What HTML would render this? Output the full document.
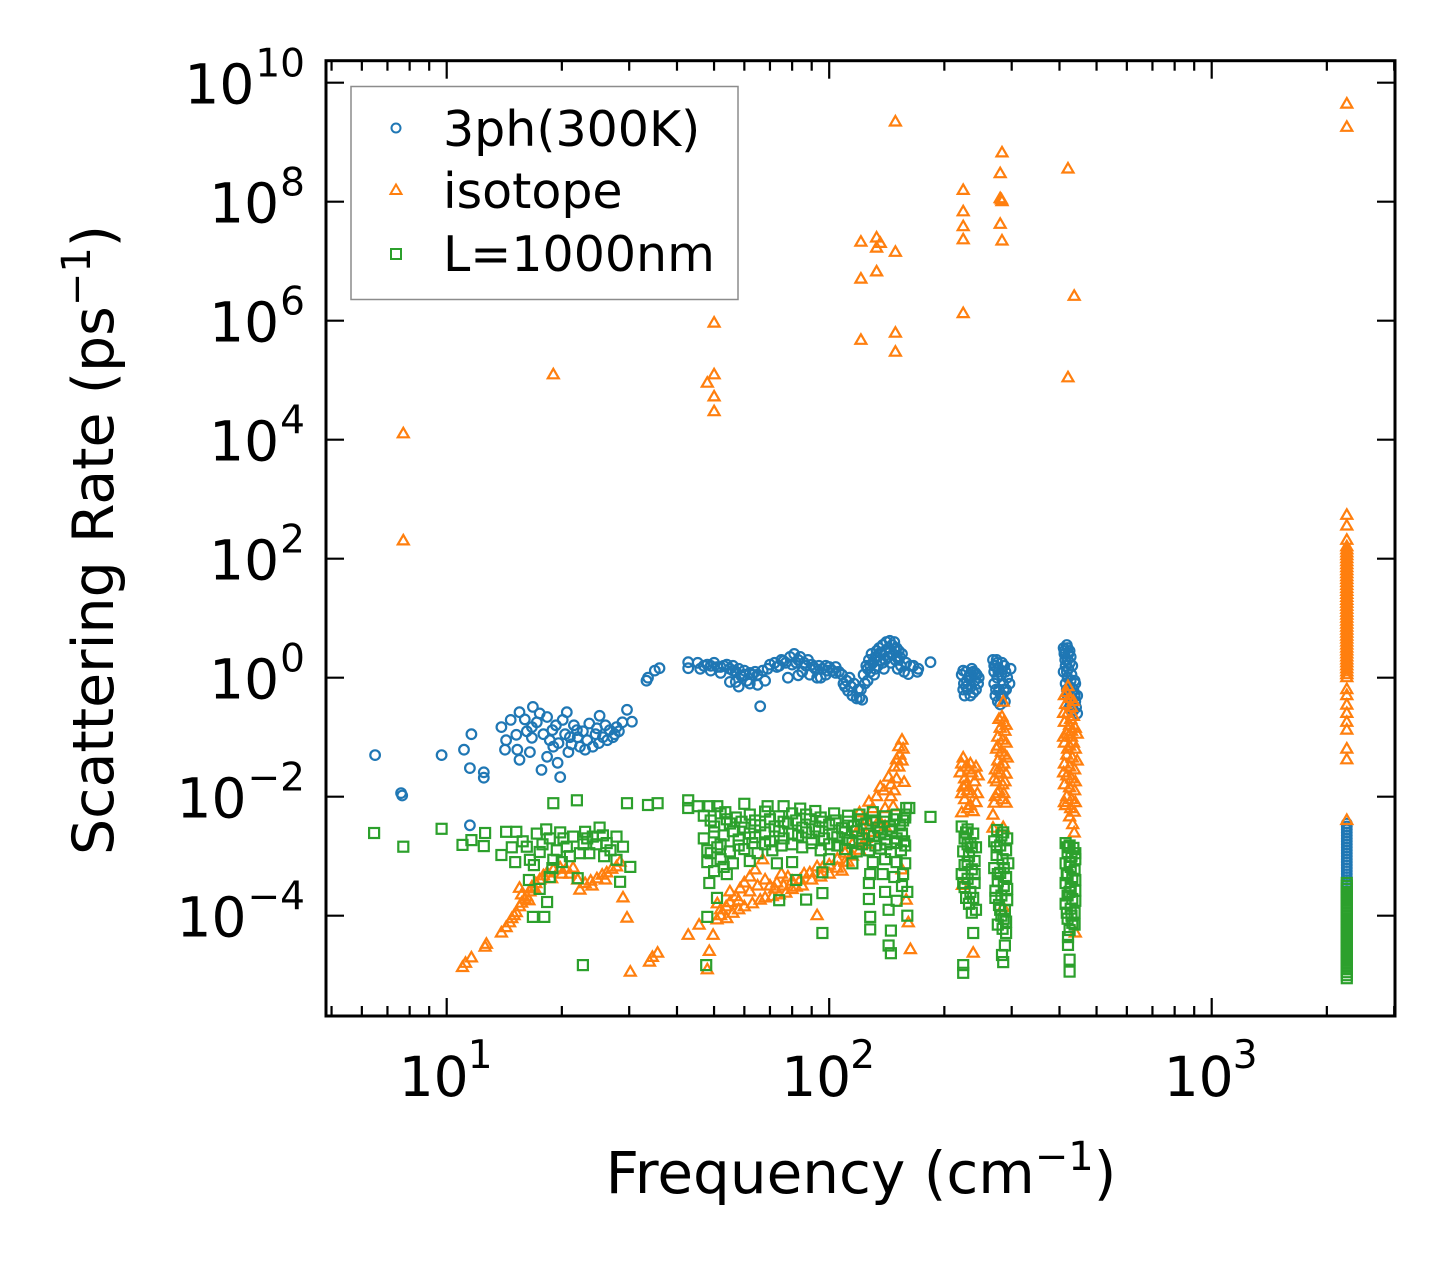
<!DOCTYPE html>
<html><head><meta charset="utf-8"><style>
html,body{margin:0;padding:0;background:#fff;}
svg{display:block;font-family:"DejaVu Sans","Liberation Sans",sans-serif;}
</style></head><body>
<svg id="chart" width="1455" height="1267" viewBox="0 0 1455 1267" xmlns="http://www.w3.org/2000/svg">
<rect width="1455" height="1267" fill="#fff"/>
<g id="marks"></g>
<g id="axes"></g>
<text x="861" y="1193" font-size="58" text-anchor="middle">Frequency (cm<tspan font-size="40" dy="-23">−1</tspan><tspan dy="23">)</tspan></text>
<text transform="translate(113,540) rotate(-90)" font-size="57" text-anchor="middle">Scattering Rate (ps<tspan font-size="40" dy="-23">−1</tspan><tspan dy="23">)</tspan></text>
<g>
<rect x="351" y="86.5" width="387" height="213" fill="#fff" stroke="#8c8c8c" stroke-width="1.5"/>
<circle cx="396" cy="128" r="4.5" fill="none" stroke="#1f77b4" stroke-width="2"/>
<text x="443" y="146" font-size="49">3ph(300K)</text>
<polygon points="396,184.5 401.5,194 390.5,194" fill="none" stroke="#ff7f0e" stroke-width="2"/>
<text x="443" y="208" font-size="49">isotope</text>
<rect x="391" y="249" width="10" height="10" fill="none" stroke="#2ca02c" stroke-width="2"/>
<text x="443" y="271" font-size="49">L=1000nm</text>
</g>
</svg>
<script>
// Data: [frequency (cm^-1), log10 scattering rate (ps^-1)]
const xTickLabels = ["1","2","3"];
const yTickLabels = ["10","8","6","4","2","0","−2","−4"];
const yTickExps = [10,8,6,4,2,0,-2,-4];
const xTickExps = [1,2,3];

const pts3ph = [
[6.5,-1.30],[7.6,-1.94],[7.65,-1.98],[9.7,-1.30],[11.1,-1.21],[11.6,-0.95],[11.5,-1.52],[12.5,-1.59],[12.5,-1.68],[11.5,-2.48],
[13.9,-0.83],[14.3,-1.05],[14.2,-1.21],[14.7,-0.71],[15.5,-0.58],[15.2,-0.96],[15.3,-1.21],[15.5,-1.38],[16.8,-0.49],[16.7,-0.83],[16.7,-1.01],[16.5,-1.25],[17.5,-0.6],[17.7,-1.55],[18.3,-0.66],[18.3,-1.33],[18.9,-0.88],[19.0,-1.16],[19.5,-1.43],[19.8,-1.67],[20.1,-0.71],[20.6,-0.58],[21.0,-1.0],[21.9,-0.88],[22.3,-1.16],[23.0,-1.21],[23.6,-0.77],[24.1,-1.16],[25.1,-0.64],[25.6,-1.0],[26.7,-0.88],[27.2,-1.0],[27.8,-0.83],[29.6,-0.54],[30.5,-0.74],
[17.2,-0.75],[17.9,-0.95],[18.6,-1.05],[19.3,-0.8],[20.4,-0.95],[21.2,-1.12],[21.5,-0.8],[22.0,-1.0],[22.7,-0.9],[23.3,-1.05],[24.5,-0.95],[25.0,-1.1],[26.0,-0.8],[26.3,-1.05],[27.5,-0.95],[28.2,-0.9],[16.0,-0.7],[16.2,-0.9],[19.6,-1.1],[20.8,-1.25],[28.8,-0.75],[24.7,-0.85],
[33.3,-0.05],[33.6,0.0],[35,0.12],[36,0.16],
[42.8,0.26],[42.8,0.16],[45.3,0.25],[47,0.2],[48,0.22],[49,0.12],[50,0.25],[51,0.18],[52,0.08],[53,0.2],[54,0.22],[55,0.15],[55,-0.07],[56,0.2],[57,0.1],[58,0.15],[59,0.02],[60,0.12],[61,-0.05],[62,0.08],[63,0.05],[64,0.1],[65,0.05],[66,-0.48],[67,0.12],[68,-0.05],[69,0.15],[70,0.22],[72,0.25],[74,0.2],[75,0.3],[77,0.25],[79,0.35],[80,0.22],[81,0.4],[83,0.3],[84,0.35],[86,0.25],[87,0.2],[88,0.3],[90,0.22],[92,0.15],[94,0.2],[96,0.15],[98,0.2],[100,0.18],[102,0.12],[104,0.18],[106,0.1],[108,0.05],[109,-0.1],[110,-0.15],[112,-0.22],[113,0.0],[115,-0.3],[116,-0.1],[118,-0.35],[120,-0.34],[121,-0.2],[122,-0.37],[123,0.05],[124,-0.1],[125,0.2],[126,-0.05],[127,0.3],[128,0.1],[129,0.4],[130,0.25],[131,0.05],[132,0.35],[133,0.45],[134,0.2],[135,0.5],[136,0.3],[137,0.4],[138,0.55],[139,0.15],[140,0.45],[141,0.6],[142,0.35],[143,0.5],[144,0.62],[145,0.25],[146,0.55],[147,0.4],[148,0.6],[149,0.3],[150,0.5],[151,0.15],[152,0.45],[153,0.35],[154,0.2],[155,0.4],[157,0.1],[159,0.25],[161,0.06],[163,0.2],[166,0.2],[170,0.1],[171,0.15],[184,0.26],
[85,0.1],[89,0.05],[95,0],[98,0.05],[104,0.08],[78,0.0],[83,0.04],[93,0.0],[57,-0.07],[62,-0.1],[58,-0.15],[65,-0.12],
[46,0.15],[49,0.2],[52,0.18],[56,0.12],[60,0.05],[73,0.18],[76,0.28],[82,0.25],[91,0.18],[99,0.12],[111,-0.05],[114,-0.15],[119,-0.2],[126,0.15],[132,0.15],[136,0.42],[140,0.3],[144,0.42],[148,0.48],[150,0.35],[152,0.3],[134,0.35],[138,0.25],[128,0.2],
[222,0.05],[225,-0.1],[228,0.1],[230,-0.2],[232,0.0],[235,-0.15],[238,0.1],[240,-0.05],[243,0.05],[226,-0.3],[234,-0.3],[245,-0.1],[224,0.12],[236,0.15],[229,-0.05],[242,-0.2],
[224,-0.2],[233,0.05],[238,-0.25],[246,0.0],[228,-0.15],[241,0.08],
[268,0.3],[270,0.1],[270,-0.1],[272,0.2],[272,-0.3],[275,0.0],[275,0.25],[278,-0.2],[278,0.15],[280,-0.45],[282,0.05],[284,-0.3],[285,-0.1],[287,0.2],[288,-0.4],[290,-0.2],[292,0.0],[298,0.15],[296,-0.1],
[270,0.2],[273,-0.2],[277,0.1],[281,-0.3],[283,0.25],[286,-0.2],[276,-0.4],[289,0.1],[274,0.3],
[410,0.5],[418,0.55],[425,0.45],[412,0.4],[420,0.3],[428,0.35],[415,0.2],[422,0.15],[432,0.2],[410,0.1],[420,0.0],[430,0.05],[438,-0.05],[415,-0.1],[425,-0.15],[435,-0.2],[440,-0.1],[420,-0.3],[430,-0.35],[440,-0.4],[445,-0.3],[425,-0.5],[435,-0.55],[445,-0.6],
[412,0.45],[422,0.4],[414,0.3],[426,0.25],[418,0.1],[428,-0.05],[432,-0.25],[438,-0.3],[428,-0.45],[442,-0.5],[420,0.5],[418,-0.2],
[2255,-2.45],[2255,-2.5],[2255,-2.55],[2255,-2.6],[2255,-2.65],[2255,-2.7],[2255,-2.75],[2255,-2.8],[2255,-2.85],[2255,-2.9],[2255,-2.95],[2255,-3.0],[2255,-3.05],[2255,-3.1],[2255,-3.15],[2255,-3.2],[2255,-3.25],[2255,-3.3],[2255,-3.35],[2255,-3.4],[2255,-3.45]
];

const ptsIsotope = [
[7.7,4.1],[7.7,2.3],[19.0,5.09],[50,5.96],[48,4.95],[50,5.09],[50,4.72],[50,4.47],[121,5.67],[121,6.7],[121,7.32],[133,6.82],[133,7.39],[133,7.22],[136,7.3],[149,9.34],[149,7.15],[149,5.79],[149,5.47],[224,8.19],[224,7.83],[224,7.58],[224,7.36],[224,6.12],[283,8.82],[280,8.47],[280,8.05],[283,8.0],[282,8.03],[280,7.62],[283,7.34],[421,8.55],[437,6.41],[421,5.04],[2255,9.64],[2255,9.25],
[2255,2.73],[2255,2.55],[2255,2.31],[2255,2.2],[2255,2.15],[2255,2.1],[2255,2.05],[2255,2.0],[2255,1.95],[2255,1.9],[2255,1.85],[2255,1.8],[2255,1.75],[2255,1.7],[2255,1.65],[2255,1.6],[2255,1.55],[2255,1.5],[2255,1.45],[2255,1.4],[2255,1.35],[2255,1.3],[2255,1.25],[2255,1.2],[2255,1.15],[2255,1.1],[2255,1.05],[2255,1.0],[2255,0.95],[2255,0.9],[2255,0.85],[2255,0.8],[2255,0.75],[2255,0.7],[2255,0.65],[2255,0.6],[2255,0.55],[2255,0.5],[2255,0.45],[2255,0.4],[2255,0.35],[2255,0.3],[2255,0.25],[2255,0.2],[2255,0.15],[2255,0.1],[2255,0.05],[2255,0.0],[2255,-0.2],[2255,-0.3],[2255,-0.46],[2255,-0.6],[2255,-0.75],[2255,-0.88],[2255,-1.2],[2255,-1.38],[2255,-2.4],
[11.0,-4.87],[11.2,-4.8],[11.6,-4.71],[12.6,-4.53],[12.7,-4.48],[13.9,-4.29],[14.3,-4.2],[14.6,-4.12],[15.0,-4.0],[15.2,-3.95],[15.5,-3.85],[15.7,-3.79],[16.0,-3.72],[16.2,-3.68],[16.5,-3.6],[16.7,-3.52],[17.1,-3.46],[17.5,-3.40],[17.9,-3.33],[18.3,-3.28],[19,-3.23],[19.8,-3.2],[20.5,-3.22],[21.4,-3.2],[22.0,-3.4],[22.3,-3.57],[23,-3.46],[23.8,-3.42],[24.7,-3.38],[25.5,-3.32],[26.2,-3.28],[27,-3.22],[27.8,-3.18],[28.4,-3.1],[15.5,-3.54],[15.7,-3.65],[28.9,-3.7],[29.6,-4.04],[30.2,-4.95],[33.9,-4.78],[35.6,-4.63],[34.5,-4.7],
[18.8,-3.38],[20,-3.3],[21,-3.3],[24,-3.5],[26,-3.4],[17,-3.55],[14.8,-4.05],[16.4,-3.75],
[42.8,-4.33],[45.7,-4.16],[48,-4.91],[48.6,-4.6],[49.7,-4.33],[50.9,-4.07],[52,-4.0],[53.8,-3.85],[55,-3.78],[57,-3.68],[58.5,-3.55],[60,-3.45],[62,-3.35],[64,-3.23],[67,-3.06],[56,-3.96],[58,-3.9],[60,-3.85],[63,-3.8],[66,-3.74],[68,-3.7],[71,-3.68],[74,-3.65],[77,-3.62],[80,-3.56],[82,-3.52],[84,-3.40],[73,-3.45],[78,-3.35],[70,-3.5],[75,-3.3],[86,-3.3],[89,-3.28],[93,-3.18],[93,-4.0],[96,-3.2],[100,-3.15],[105,-3.05],[110,-2.95],[115,-2.8],[118,-2.6],[120,-2.27],[122,-2.5],[125,-2.4],[127,-2.09],[130,-2.2],[133,-2.0],[136,-1.84],[139,-1.9],[143,-1.67],[145,-1.8],[147,-2.17],[148,-1.5],[150,-1.38],[152,-1.16],[153,-1.3],[155,-1.05],[156,-1.2],[157,-1.76],[155,-3.23],[161,-4.12],[163,-4.57],[159,-3.74],[112,-3.1],[125,-2.7],[140,-2.5],[108,-3.25],
[52,-3.9],[55,-3.6],[58,-3.75],[62,-3.6],[65,-3.5],[68,-3.4],[72,-3.55],[76,-3.5],[80,-3.42],[85,-3.5],[90,-3.4],[95,-3.35],[100,-3.3],[105,-3.2],[110,-3.1],[115,-3.0],[120,-2.9],[125,-2.8],[130,-2.6],[135,-2.4],[140,-2.2],[145,-2.0],[150,-1.7],[152,-1.5],[148,-1.9],[155,-1.4],[51,-3.8],[54,-4.05],
[224,-1.35],[224,-1.84],[222,-1.45],[228,-1.5],[232,-1.55],[236,-1.6],[226,-1.7],[240,-1.75],[230,-1.9],[236,-1.95],[226,-2.05],[242,-2.1],[230,-2.2],[238,-2.25],[222,-2.27],[245,-1.65],[223,-3.49],[238,-4.63],
[220,-1.6],[234,-1.45],[242,-1.5],[228,-1.8],[244,-1.95],[234,-2.15],[222,-1.95],
[285,-0.41],[283,-0.66],[286,-0.75],[280,-0.85],[288,-0.9],[276,-1.0],[284,-1.05],[290,-1.1],[274,-1.2],[282,-1.25],[288,-1.3],[276,-1.4],[286,-1.45],[272,-1.55],[280,-1.6],[290,-1.62],[274,-1.75],[284,-1.8],[278,-1.9],[286,-1.95],[272,-2.0],[270,-2.11],[290,-2.11],[268,-2.31],[268,-2.53],[285,-2.52],[285,-3.86],
[278,-0.7],[290,-0.8],[276,-1.15],[292,-1.35],[280,-1.5],[270,-1.7],[288,-1.75],[276,-1.95],[284,-2.05],
[421,-0.15],[418,-0.25],[425,-0.35],[415,-0.45],[430,-0.5],[420,-0.6],[435,-0.65],[412,-0.75],[425,-0.8],[440,-0.85],[418,-0.95],[430,-1.0],[412,-1.1],[425,-1.15],[440,-1.2],[418,-1.3],[432,-1.35],[412,-1.45],[425,-1.5],[438,-1.55],[418,-1.65],[430,-1.7],[412,-1.8],[425,-1.85],[438,-1.9],[418,-2.0],[430,-2.05],[415,-2.15],[428,-2.2],[437,-2.26],[425,-2.34],[433,-2.47],[437,-2.61],[440,-4.29],
[412,-0.3],[435,-0.4],[410,-0.6],[428,-0.7],[445,-0.95],[410,-1.0],[435,-1.1],[445,-1.4],[410,-1.6],[440,-1.75],[412,-2.1],[440,-2.1],[420,-1.2],[430,-0.9]
];

const ptsBoundary = [
[6.46,-2.61],[7.7,-2.84],[9.7,-2.54],[11.0,-2.81],[11.6,-2.73],[12.6,-2.61],[12.5,-2.83],[14.3,-2.59],[13.9,-2.98],[15.2,-2.59],[15.1,-3.1],[16.2,-2.84],[16.5,-3.06],[17.2,-2.62],[17.5,-2.93],[18.6,-2.70],[19,-3.06],[19.8,-2.6],[20.6,-2.84],[21.4,-2.67],[22.3,-2.95],[23,-2.59],[24.1,-2.67],[25.1,-2.52],[26.2,-2.78],[27.8,-2.67],[28.9,-2.84],[30.2,-3.18],[27.8,-3.06],[28.4,-3.43],[16.4,-3.4],[17.5,-3.55],[18.6,-3.35],[18.3,-3.77],[16.8,-4.02],[18.0,-4.02],[22,-3.37],[22.7,-4.83],[19,-2.11],[21.9,-2.06],[29.6,-2.11],[33.6,-2.14],[35.6,-2.11],
[15.8,-2.75],[17.8,-2.8],[18.2,-2.55],[19.4,-2.9],[20.2,-2.7],[21.0,-3.0],[22.8,-2.8],[23.6,-2.95],[24.6,-2.8],[25.6,-2.65],[26.8,-2.9],[14.8,-2.85],[20.0,-3.1],[23.3,-2.7],[25.8,-3.0],[18.9,-3.2],[16.9,-3.15],
[42.8,-2.06],[42.8,-2.19],[45.3,-2.16],[48.6,-2.16],[51,-2.16],[53.5,-2.26],[60,-2.12],[69,-2.16],[76,-2.16],[84,-2.2],[92,-2.24],
[47,-2.32],[52,-2.28],[57,-2.35],[62,-2.3],[68,-2.25],[74,-2.33],[80,-2.28],[87,-2.3],[95,-2.35],[103,-2.28],[112,-2.32],[120,-2.3],[130,-2.26],[140,-2.33],[150,-2.3],[158,-2.35],
[49,-2.4],[54,-2.38],[59,-2.42],[64,-2.4],[70,-2.38],[76,-2.42],[82,-2.4],[89,-2.38],[96,-2.42],[104,-2.4],[112,-2.42],[121,-2.38],[130,-2.4],[139,-2.42],[148,-2.38],[156,-2.4],
[50,-2.5],[55,-2.45],[60,-2.52],[66,-2.48],[72,-2.5],[78,-2.45],[85,-2.52],[92,-2.5],[100,-2.47],[108,-2.53],[116,-2.5],[125,-2.45],[134,-2.52],[144,-2.5],[153,-2.48],
[50,-2.6],[56,-2.58],[62,-2.62],[68,-2.6],[74,-2.58],[80,-2.62],[87,-2.6],[94,-2.58],[102,-2.62],[110,-2.6],[118,-2.58],[127,-2.62],[136,-2.6],[146,-2.58],[155,-2.62],
[47,-2.7],[53,-2.65],[58,-2.72],[64,-2.68],[70,-2.75],[76,-2.7],[83,-2.65],[90,-2.72],[97,-2.7],[105,-2.68],[113,-2.73],[122,-2.7],[131,-2.66],[140,-2.72],[150,-2.7],[157,-2.75],
[52,-2.8],[58,-2.82],[63,-2.78],[68,-2.8],[75,-2.82],[80,-2.8],[90,-2.78],[100,-2.8],[105,-2.82],[115,-2.78],[122,-2.8],[132,-2.82],[141,-2.8],[150,-2.78],[158,-2.82],
[48,-2.9],[51,-2.85],[55,-2.92],[60,-2.88],[65,-2.95],[71,-2.9],[85,-2.85],[95,-2.9],[110,-2.88],[118,-2.92],[127,-2.9],[136,-2.87],[145,-2.93],[154,-2.9],
[48,-3.1],[52,-3.05],[56,-3.12],[62,-3.08],[80,-3.1],[100,-3.05],[115,-3.12],[130,-3.1],[140,-3.05],[150,-3.1],[158,-3.12],
[50,-3.25],[54,-3.3],[49,-2.95],[53,-3.18],[48.6,-3.45],[50.9,-3.7],[48,-4.02],[47.7,-4.83],[73,-3.12],[74,-3.74],[82,-3.4],[87,-3.73],[96,-3.62],[96,-4.29],[96,-3.27],[128,-3.3],[138,-3.3],[148,-3.35],[156,-3.3],[127,-3.45],[127,-3.72],[128,-4.02],[128,-4.23],[143,-3.9],[145,-4.25],[143,-4.5],[145,-4.63],[150,-3.75],[155,-3.5],[160,-3.6],[140,-3.6],[159,-2.19],[162,-2.19],[184,-2.34],[158,-2.3],[160,-4.0],
[222,-2.5],[230,-2.55],[238,-2.62],[226,-2.7],[234,-2.78],[242,-2.85],[224,-2.92],[232,-3.0],[240,-3.08],[226,-3.15],[236,-3.22],[222,-3.3],[230,-3.38],[240,-3.45],[226,-3.52],[234,-3.6],[238,-3.7],[232,-3.8],[236,-3.95],[238,-4.29],[224,-4.83],[224,-4.96],
[228,-2.6],[236,-2.85],[230,-3.1],[224,-3.45],[240,-3.3],[228,-3.7],[242,-3.9],[230,-2.8],
[275,-2.56],[285,-2.6],[292,-2.7],[270,-2.75],[280,-2.82],[290,-2.9],[274,-2.98],[284,-3.05],[294,-3.12],[270,-3.2],[280,-3.28],[290,-3.35],[276,-3.42],[286,-3.5],[272,-3.58],[282,-3.66],[292,-3.74],[278,-3.82],[288,-3.9],[282,-4.0],[290,-4.1],[284,-4.22],[290,-4.29],[283,-4.66],[285,-4.78],[288,-4.5],
[282,-2.65],[274,-2.85],[286,-3.2],[276,-3.3],[292,-3.55],[280,-3.9],[272,-3.7],[286,-4.05],[276,-4.15],
[415,-2.78],[425,-2.82],[435,-2.86],[420,-2.95],[430,-3.0],[440,-3.05],[415,-3.12],[428,-3.18],[438,-3.24],[420,-3.32],[432,-3.38],[415,-3.45],[428,-3.52],[440,-3.58],[420,-3.66],[432,-3.72],[415,-3.8],[428,-3.88],[438,-3.95],[420,-4.05],[432,-4.12],[425,-4.24],[421,-4.36],[421,-4.49],[425,-4.74],[425,-4.94],
[420,-2.85],[440,-2.95],[425,-3.1],[418,-3.3],[440,-3.4],[425,-3.6],[440,-3.75],[418,-3.95],[430,-4.0],[438,-4.15],
[2255,-3.45],[2255,-3.5],[2255,-3.55],[2255,-3.6],[2255,-3.65],[2255,-3.7],[2255,-3.75],[2255,-3.8],[2255,-3.85],[2255,-3.9],[2255,-3.95],[2255,-4.0],[2255,-4.05],[2255,-4.1],[2255,-4.15],[2255,-4.2],[2255,-4.25],[2255,-4.3],[2255,-4.35],[2255,-4.4],[2255,-4.45],[2255,-4.5],[2255,-4.55],[2255,-4.6],[2255,-4.65],[2255,-4.7],[2255,-4.75],[2255,-4.8],[2255,-4.85],[2255,-4.9],[2255,-4.95],[2255,-5.0],[2255,-5.05]
];

const NS = "http://www.w3.org/2000/svg";
const L = 326, R = 1395, T = 60.7, B = 1016;
function xScale(f){ return 446.7 + (Math.log10(f) - 1) * 382.5; }
function yScale(e){ return 82.7 + (10 - e) * 59.5; }

const marks = document.getElementById('marks');
const axes = document.getElementById('axes');
function mk(tag, attrs, parent){
  const el = document.createElementNS(NS, tag);
  for (const k in attrs) el.setAttribute(k, attrs[k]);
  parent.appendChild(el);
  return el;
}

const gBlue = mk('g', {fill:'none', stroke:'#1f77b4', 'stroke-width':'2.2'}, marks);


pts3ph.forEach(p => {
  const el = mk('circle', {cx:xScale(p[0]).toFixed(1), cy:yScale(p[1]).toFixed(1), r:4.8}, gBlue);
  
  
});
const gOr = mk('g', {fill:'none', stroke:'#ff7f0e', 'stroke-width':'2.2'}, marks);


ptsIsotope.forEach(p => {
  const x = xScale(p[0]), y = yScale(p[1]);
  const el = mk('polygon', {points:`${x.toFixed(1)},${(y-6).toFixed(1)} ${(x+5.5).toFixed(1)},${(y+3.5).toFixed(1)} ${(x-5.5).toFixed(1)},${(y+3.5).toFixed(1)}`}, gOr);
  
  
});
const gGr = mk('g', {fill:'none', stroke:'#2ca02c', 'stroke-width':'2.2'}, marks);


ptsBoundary.forEach(p => {
  const x = xScale(p[0]), y = yScale(p[1]);
  const el = mk('rect', {x:(x-5).toFixed(1), y:(y-5).toFixed(1), width:10, height:10}, gGr);
  
  
});

// ticks
const tk = mk('g', {stroke:'#000', 'stroke-width':'2.2'}, axes);


for (let d = 0; d <= 3; d++) {
  for (let m = 1; m <= 9; m++) {
    const f = m * Math.pow(10, d);
    const x = xScale(f);
    if (x < L || x > R) continue;
    const len = (m === 1) ? 18 : 10;
    mk('line', {x1:x, x2:x, y1:B, y2:B-len}, tk);
    mk('line', {x1:x, x2:x, y1:T, y2:T+len}, tk);
  }
}
yTickExps.forEach(e => {
  const y = yScale(e);
  mk('line', {x1:L, x2:L+18, y1:y, y2:y}, tk);
  mk('line', {x1:R, x2:R-18, y1:y, y2:y}, tk);
});
const frame = mk('rect', {x:L, y:T, width:R-L, height:B-T, fill:'none', stroke:'#000', 'stroke-width':'3'}, axes);



// tick labels
xTickExps.forEach((e, i) => {
  const x = xScale(Math.pow(10, e));
  const t = mk('text', {x:x-13, y:1096, 'font-size':'55', 'text-anchor':'middle', fill:'#000'}, axes);
  
  
  t.textContent = '10';
  const s = mk('text', {x:x+21, y:1068, 'font-size':'39', 'text-anchor':'start', fill:'#000'}, axes);
  
  
  s.textContent = xTickLabels[i];
});
yTickExps.forEach((e, i) => {
  const y = yScale(e);
  const s = mk('text', {x:305, y:y-6, 'font-size':'39', 'text-anchor':'end', fill:'#000'}, axes);
  
  
  s.textContent = yTickLabels[i];
  const w = s.getComputedTextLength();
  const t = mk('text', {x:305 - w - 1, y:y+21, 'font-size':'55', 'text-anchor':'end', fill:'#000'}, axes);
  
  
  t.textContent = '10';
});
</script>
</body></html>
